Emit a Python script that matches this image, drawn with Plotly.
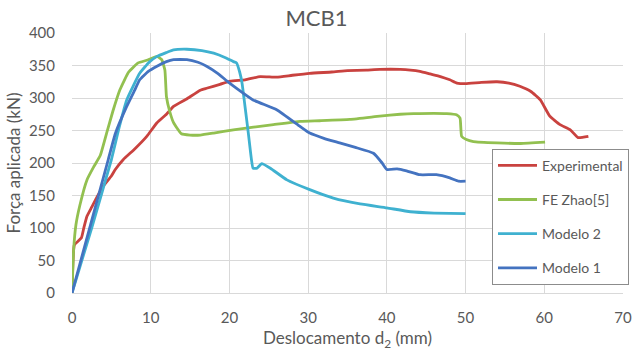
import plotly.graph_objects as go

# ---- data ----
exp_x = [0, 0.3, 0.8, 1.2, 1.5, 1.9, 2.5, 3.1, 4.0, 5.0, 5.5, 6.5, 8.0, 9.5, 10.8, 12.0, 12.9, 14.5, 16.3,
         17.1, 18.8, 20.1, 22.0, 23.9, 26.0, 28.0, 30.2, 33.0, 35.0, 37.4, 39.1, 41.7, 43.0, 44.2, 45.5, 46.8,
         48.0, 48.9, 50.0, 52.0, 54.0, 55.5, 56.9, 58.3, 59.5, 60.7, 62.0, 63.3, 64.3, 65.6]
exp_y = [0, 74, 80, 85, 100, 118, 132, 146, 165, 180, 190, 205, 222, 241, 262, 275, 287, 298, 312,
         315, 321, 326, 328, 333, 332, 335, 338, 340, 342, 343, 344, 344, 343, 341, 337, 333,
         328, 323, 322, 324, 325, 323, 318, 310, 297, 272, 259, 251, 239, 241]

zhao_x = [0, 0.2, 0.5, 1.0, 1.9, 2.8, 3.6, 4.4, 5.2, 6.1, 7.2, 8.4, 9.5, 10.8, 11.4, 11.8, 12.0, 12.4,
          12.9, 13.9, 15.0, 16.3, 18.0, 20.5, 25.6, 29.0, 31.5, 35.3, 39.1, 41.7, 43.4, 47.6, 48.9, 49.3,
          49.5, 50.1, 51.0, 54.0, 57.0, 60.1]
zhao_y = [0, 65, 105, 135, 174, 195, 212, 246, 280, 313, 340, 354, 358, 364, 359, 343, 302, 280,
          262, 245, 243, 243, 246, 251, 259, 264, 265, 267, 272, 275, 276, 276, 274, 269,
          241, 236, 233, 231, 230, 232]

m2_x = [0, 2.5, 5.0, 6.0, 6.95, 8.6, 9.8, 10.8, 12.0, 12.9, 14.6, 16.5, 18.0, 19.5, 20.5, 20.9, 21.3,
        21.6, 22.0, 22.4, 22.8, 23.0, 23.5, 24.1, 25.2, 27.3, 30.2, 33.2, 36.6, 40.0, 43.0, 46.0, 50.0]
m2_y = [0, 100, 205, 255, 297, 338, 355, 364, 370, 374, 375, 373, 369, 362, 356, 354, 340,
        323, 285, 246, 205, 192, 192, 199, 192, 174, 159, 146, 137, 131, 125, 123, 122]

m1_x = [0, 4.6, 5.5, 6.95, 8.0, 8.6, 9.7, 10.8, 12.0, 12.9, 14.6, 16.0, 17.1, 18.5, 19.7, 21.0, 23.0,
        26.0, 29.0, 30.2, 32.0, 34.0, 36.0, 38.3, 39.4, 40.0, 41.3, 42.5, 44.2, 46.3, 48.0, 49.1, 50.0]
m1_y = [0, 205, 245, 287, 313, 328, 341, 349, 356, 359, 359, 355, 349, 338, 326, 314, 297,
        282, 256, 246, 238, 231, 224, 215, 200, 190, 191, 188, 182, 182, 177, 172, 172]

series = [
    ("Experimental", exp_x, exp_y, "#c9423f"),
    ("FE Zhao[5]", zhao_x, zhao_y, "#92c050"),
    ("Modelo 2", m2_x, m2_y, "#3fb1d0"),
    ("Modelo 1", m1_x, m1_y, "#4473c0"),
]

x_ticks = [0, 10, 20, 30, 40, 50, 60, 70]
y_ticks = [0, 50, 100, 150, 200, 250, 300, 350, 400]

FONT = "Lato, 'Open Sans', sans-serif"
GREY = "#595959"

fig = go.Figure()
for name, xs, ys, col in series:
    fig.add_trace(go.Scatter(
        x=xs, y=ys, name=name, mode="lines", legendgroup=name,
        line=dict(color=col, width=2.8, shape="spline", smoothing=0.4),
    ))

fig.update_layout(
    width=633, height=351,
    margin=dict(l=72, r=10, t=33, b=58, autoexpand=False),
    paper_bgcolor="white", plot_bgcolor="white",
    font=dict(family=FONT, color=GREY, size=14),
    title=dict(text="MCB1", x=0.5, xref="container", xanchor="center",
               y=1 - 18 / 351, yref="container", yanchor="middle",
               font=dict(size=22, color=GREY, family=FONT)),
    showlegend=True,
    legend=dict(
        x=(492 - 72) / 551, y=(293.3 - 149) / 260, xanchor="left", yanchor="top",
        xref="paper", yref="paper",
        bgcolor="white", bordercolor="#8c8c8c", borderwidth=1,
        font=dict(size=14, color=GREY, family=FONT),
        traceorder="grouped", tracegroupgap=13, itemwidth=39,
    ),
)
fig.update_xaxes(
    range=[0, 70], tickvals=x_ticks, ticktext=[str(v) for v in x_ticks],
    showgrid=True, gridcolor="#d9d9d9", gridwidth=1,
    showline=True, linecolor="#d9d9d9", linewidth=1, zeroline=False,
    ticks="outside", ticklen=11, tickcolor="rgba(0,0,0,0)",
    tickfont=dict(size=15, color=GREY), automargin=False,
    title=dict(text="Deslocamento d<sub>2</sub> (mm)", font=dict(size=17, color=GREY), standoff=12),
)
fig.update_yaxes(
    range=[0, 400], tickvals=y_ticks, ticktext=[str(v) for v in y_ticks],
    showgrid=True, gridcolor="#d9d9d9", gridwidth=1,
    showline=False, zeroline=False,
    ticks="outside", ticklen=13, tickcolor="rgba(0,0,0,0)",
    tickfont=dict(size=15, color=GREY), automargin=False,
    title=dict(text="Força aplicada (kN)", font=dict(size=17, color=GREY), standoff=3),
)

fig.write_html("out.html")
